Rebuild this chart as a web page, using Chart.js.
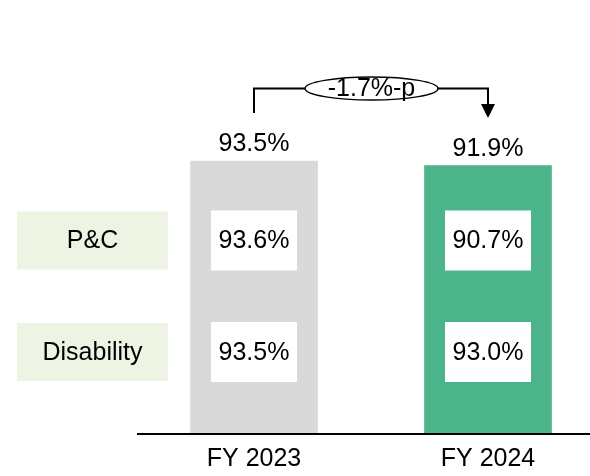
<!DOCTYPE html>
<html>
<head>
<meta charset="utf-8">
<script src="https://cdn.jsdelivr.net/npm/chart.js@4"></script>
<style>
  html, body { margin: 0; padding: 0; background: #fff; }
  #wrap { width: 590px; height: 476px; }
</style>
</head>
<body>
<div id="wrap"><canvas id="myChart"></canvas></div>
<script>
// data
const categories = ['FY 2023', 'FY 2024']
const totalValues = [93.5, 91.9]
const pcValues = [93.6, 90.7]
const disabilityValues = [93.5, 93.0]
const rowLabels = ['P&C', 'Disability']
const deltaLabel = '-1.7%-p'

const barColors = ['#D9D9D9', '#4BB48A']
const font = '"Liberation Sans", Arial, sans-serif'

// kotak label, angka di dalam bar, axis line dan panah
const overlay = {
    id: 'overlay',
    afterDatasetsDraw(chart) {
        const ctx = chart.ctx
        const bars = chart.getDatasetMeta(0).data
        const area = chart.chartArea
        const rows = [pcValues, disabilityValues]
        const rowY = [240.5, 352]

        ctx.save()
        ctx.font = '25px ' + font
        ctx.textAlign = 'center'
        ctx.textBaseline = 'middle'

        // label kiri
        rows.forEach((vals, r) => {
            ctx.fillStyle = '#EEF4E4'
            ctx.fillRect(17, rowY[r] - 29, 151, 58)
            ctx.fillStyle = '#000'
            ctx.fillText(rowLabels[r], 92.5, rowY[r] + 1)
        })

        // kotak putih di dalam bar
        bars.forEach((bar, i) => {
            rows.forEach((vals, r) => {
                ctx.fillStyle = '#fff'
                ctx.fillRect(bar.x - 43, rowY[r] - 30, 86, 60)
                ctx.fillStyle = '#000'
                ctx.fillText(vals[i].toFixed(1) + '%', bar.x, rowY[r] + 1)
            })
            // total di atas bar
            ctx.textBaseline = 'alphabetic'
            ctx.fillText(totalValues[i].toFixed(1) + '%', bar.x, bar.y - 10)
            ctx.textBaseline = 'middle'
        })

        // axis line
        ctx.strokeStyle = '#000'
        ctx.lineWidth = 2
        ctx.beginPath()
        ctx.moveTo(137, area.bottom)
        ctx.lineTo(chart.width, area.bottom)
        ctx.stroke()

        // panah selisih
        const x0 = bars[0].x, x1 = bars[1].x
        const yLine = 88.5
        const cx = 371.5, rx = 66.5, ry = 11.5
        ctx.lineWidth = 2
        ctx.beginPath()
        ctx.moveTo(x0, 113)
        ctx.lineTo(x0, yLine)
        ctx.lineTo(cx - rx, yLine)
        ctx.moveTo(cx + rx, yLine)
        ctx.lineTo(x1, yLine)
        ctx.lineTo(x1, 106)
        ctx.stroke()
        ctx.beginPath()
        ctx.moveTo(x1 - 7, 104)
        ctx.lineTo(x1 + 7, 104)
        ctx.lineTo(x1, 118)
        ctx.closePath()
        ctx.fillStyle = '#000'
        ctx.fill()

        ctx.lineWidth = 1.5
        ctx.beginPath()
        ctx.ellipse(cx, yLine, rx, ry, 0, 0, Math.PI * 2)
        ctx.fillStyle = '#fff'
        ctx.fill()
        ctx.stroke()
        ctx.fillStyle = '#000'
        ctx.fillText(deltaLabel, cx, yLine + 1)

        ctx.restore()
    }
}

const ctx = document.getElementById('myChart');
const chart = new Chart(ctx, {
    type: 'bar',
    data: {
        labels: categories,
        datasets: [{
            data: totalValues,
            backgroundColor: barColors,
            barThickness: 127,
            clip: false,
        }],
    },
    options: {
        responsive: true,
        maintainAspectRatio: false,
        animation: false,
        layout: {
            padding: { left: 254, right: 102, top: 142, bottom: -8 }
        },
        plugins: {
            legend: { display: false },
            tooltip: { enabled: false }
        },
        scales: {
            x: {
                offset: false,
                grid: { display: false, drawTicks: false },
                border: { display: false },
                ticks: {
                    color: '#000',
                    padding: 16,
                    font: { family: font, size: 25, lineHeight: 0.72 }
                }
            },
            y: {
                display: false,
                min: 0,
                max: 100
            }
        }
    },
    plugins: [overlay]
});
</script>
</body>
</html>
